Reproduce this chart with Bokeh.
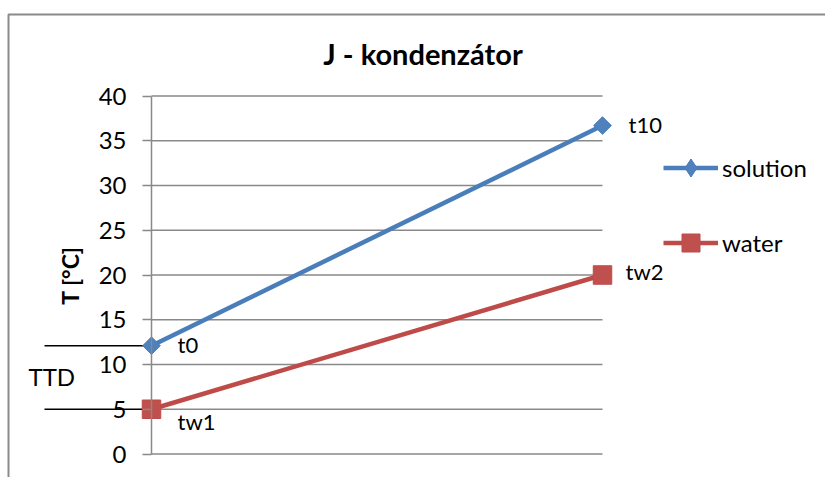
import math
from bokeh.plotting import figure
from bokeh.models import (Range1d, FixedTicker, ColumnDataSource, Legend, LegendItem, Label)
from bokeh.core.properties import value
from bokeh.embed import file_html
from bokeh.resources import INLINE

# ---------------- data ----------------
x_pos = [0, 1]
solution = [12.1, 36.7]
water = [5.0, 20.0]
solution_labels = ["t0", "t10"]
water_labels = ["tw1", "tw2"]
series_names = ["solution", "water"]
y_ticks = [0, 5, 10, 15, 20, 25, 30, 35, 40]
title_text = "J - kondenzátor"
y_label = "T [°C]"
ttd_text = "TTD"

# ---------------- layout (pixels) ----------------
W, H = 825, 477
X0_PX, X1_PX = 151, 602        # canvas x of first / last point
Y0_PX, YT_PX = 453.5, 95.5     # canvas y of lowest / highest tick
px_x = X1_PX - X0_PX
px_y = (Y0_PX - YT_PX) / (y_ticks[-1] - y_ticks[0])
x_start = x_pos[0] - X0_PX / px_x
x_end = x_pos[-1] + (W - X1_PX) / px_x
y_start = y_ticks[0] - (H - Y0_PX) / px_y
y_end = y_ticks[-1] + YT_PX / px_y


def dx(px):  # canvas px -> data x
    return x_pos[0] + (px - X0_PX) / px_x


def dy(px):  # canvas px -> data y
    return y_ticks[0] + (Y0_PX - px) / px_y


# label offsets (pixels)
sol_label_off_x = [26, 26]
wat_label_off_x = [26, 23]
sol_label_off_y = [-1, -1]
wat_label_off_y = [12, -4]

GRID = "#898989"
BLUE_LINE, BLUE_FILL = "#4A7EBB", "#4F81BD"
RED_LINE, RED_FILL = "#BE4B48", "#C0504D"
FONT = "Lato"
LW = 4.5

p = figure(width=W, height=H, x_range=Range1d(x_start, x_end), y_range=Range1d(y_start, y_end),
           output_backend="svg", toolbar_location=None, x_axis_location=None,
           y_axis_location="left", min_border=0, outline_line_color=None,
           background_fill_color="white", border_fill_color="white")
p.xgrid.visible = False
p.ygrid.visible = False

yax = p.yaxis[0]
yax.fixed_location = x_pos[0]
yax.bounds = (y_ticks[0], y_ticks[-1])
yax.ticker = FixedTicker(ticks=y_ticks)
yax.minor_tick_line_color = None
yax.major_tick_in = 0
yax.major_tick_out = 9
yax.axis_line_color = GRID
yax.axis_line_width = 1.5
yax.major_tick_line_color = GRID
yax.major_tick_line_width = 1.5
yax.major_label_text_font = FONT
yax.major_label_text_font_size = "24px"
yax.major_label_text_color = "black"
yax.major_label_standoff = 16
yax.axis_label = y_label
yax.axis_label_text_font = FONT
yax.axis_label_text_font_style = "bold"
yax.axis_label_text_font_size = "23px"
yax.axis_label_text_color = "black"
yax.axis_label_standoff = 12

# chart border (top and left edges of the chart area)
p.line([dx(8), dx(8), dx(W + 20)], [dy(H + 20), dy(14), dy(14)],
       line_color="#8A8A8A", line_width=2)

# gridlines between first and last category
p.segment(x0=[x_pos[0]] * len(y_ticks), x1=[x_pos[-1]] * len(y_ticks), y0=y_ticks, y1=y_ticks,
          line_color=GRID, line_width=1.5)

# TTD guide lines
ttd_x = dx(44)
p.segment(x0=[ttd_x, ttd_x], x1=[x_pos[0], x_pos[0]], y0=[solution[0], water[0]],
          y1=[solution[0], water[0]], line_color="black", line_width=1.5)

# series
sol_line = p.line(x_pos, solution, line_color=BLUE_LINE, line_width=LW)
p.scatter(x_pos, solution, marker="square", angle=math.pi / 4, size=12.5,
          fill_color=BLUE_FILL, line_color=BLUE_LINE, line_width=1)
wat_line = p.line(x_pos, water, line_color=RED_LINE, line_width=LW)
wat_marker = p.scatter(x_pos, water, marker="square", size=18.5,
                       fill_color=RED_FILL, line_color=RED_LINE, line_width=1)
# legend-only diamond glyph
sol_leg_marker = p.scatter([float("nan")], [float("nan")], marker="diamond", size=12,
                           fill_color=BLUE_FILL, line_color=BLUE_LINE, line_width=1)

# data labels
src_s = ColumnDataSource(dict(x=x_pos, y=solution, label=solution_labels,
                              ox=sol_label_off_x, oy=sol_label_off_y))
src_w = ColumnDataSource(dict(x=x_pos, y=water, label=water_labels,
                              ox=wat_label_off_x, oy=wat_label_off_y))
for src in (src_s, src_w):
    p.text(x="x", y="y", text="label", source=src, x_offset="ox", y_offset="oy",
           text_font=value(FONT), text_font_size="22px", text_baseline="alphabetic",
           text_align="left", text_color="black")

# legend
legend = Legend(items=[LegendItem(label=series_names[0], renderers=[sol_line, sol_leg_marker]),
                       LegendItem(label=series_names[1], renderers=[wat_line, wat_marker])],
                location=(663, H - 264.5), padding=0, margin=0, spacing=30,
                glyph_width=55, glyph_height=45, label_height=45, label_standoff=4,
                label_text_font=FONT, label_text_font_size="24px", label_text_color="black",
                border_line_color=None, background_fill_alpha=0)
p.add_layout(legend, "center")

# title
p.add_layout(Label(x=422.5, y=H - 52.5, x_units="screen", y_units="screen", text=title_text,
                   text_align="center", text_baseline="alphabetic", text_font=FONT,
                   text_font_style="bold", text_font_size="29px", text_color="black"))
# TTD text
p.add_layout(Label(x=28, y=H - 376, x_units="screen", y_units="screen", text=ttd_text,
                   text_align="left", text_baseline="alphabetic", text_font=FONT,
                   text_font_size="24px", text_color="black"))

open("out.html", "w").write(file_html(p, INLINE))
